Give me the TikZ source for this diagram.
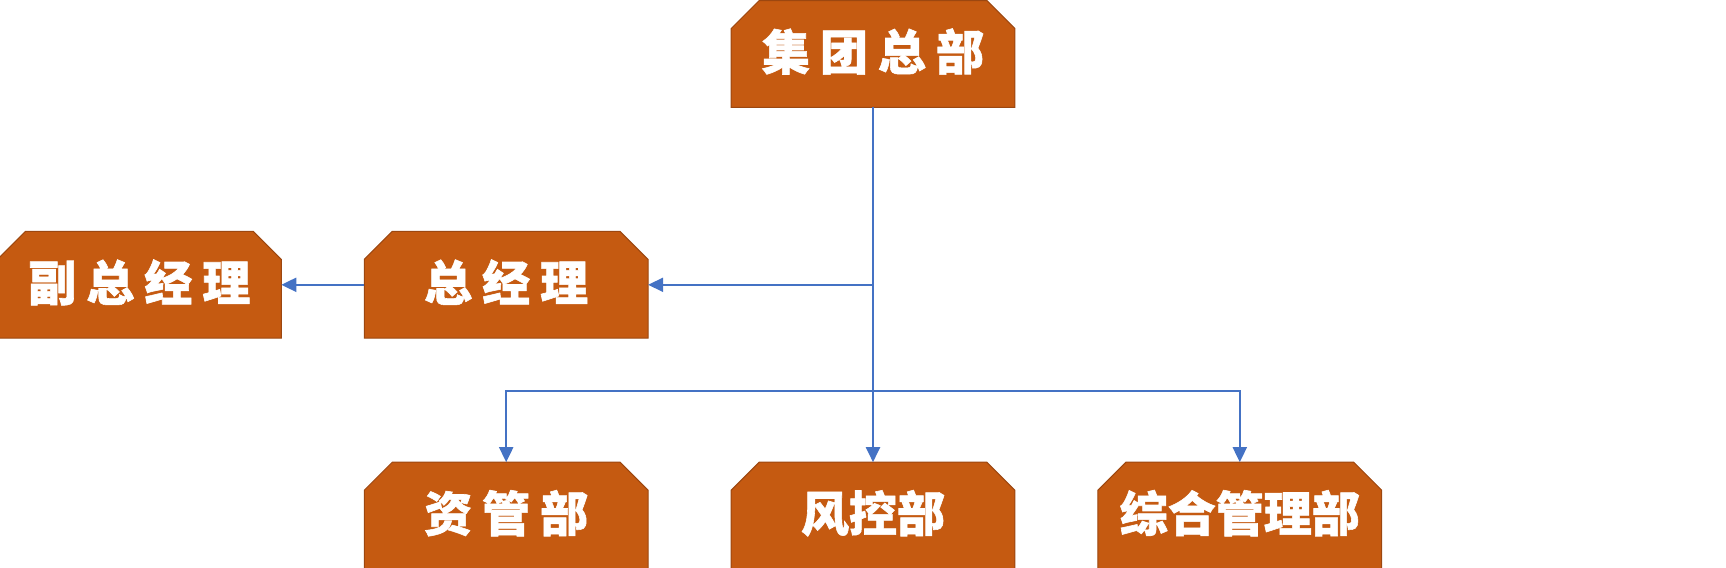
\documentclass[tikz,border=0pt]{standalone}
\usepackage{fontspec}
\newfontfamily\cjk{Noto Sans CJK SC}[BoldFeatures={FakeBold=1.2}]
\usetikzlibrary{arrows.meta,positioning,backgrounds}
\definecolor{boxfill}{HTML}{C55A11}
\definecolor{boxline}{HTML}{9C4710}
\definecolor{linkblue}{HTML}{4472C4}
\newcommand{\gp}{\hspace{5pt}}

\begin{document}
\begin{tikzpicture}[node distance=62pt and 41.5pt,>={Triangle[length=7.5pt,width=7pt]}, every node/.style={font=\cjk\bfseries\fontsize{24pt}{24pt}\selectfont}]
\tikzstyle{box}=[rectangle,text=white,inner sep=0pt,text height=20pt,text depth=4pt,minimum width=141.5pt,minimum height=53pt]
\tikzstyle{tab}=[draw=boxline,line width=0.5pt,fill=boxfill]
\tikzstyle{link}=[draw=linkblue,line width=1pt]
\useasboundingbox (0,0) rectangle (863pt,-284pt);
\node[box] (hq) at (436.5pt,-27pt) {集\gp 团\gp 总\gp 部};
\node[box,below left=of hq] (gm) {总\gp 经\gp 理};
\node[box,left=of gm] (vgm) {副\gp 总\gp 经\gp 理};
\node[box,below=of gm] (am) {资\gp 管\gp 部};
\node[box,right=of am] (rc) {风控部};
\node[box,right=of rc] (adm) {综合管理部};
\begin{scope}[on background layer]
\foreach \n in {hq,gm,vgm,am,rc,adm}
  \draw[tab] (\n.south west) -- ([yshift=-14pt]\n.north west) -- ([xshift=14pt]\n.north west)
    -- ([xshift=-14pt]\n.north east) -- ([yshift=-14pt]\n.north east) -- (\n.south east) -- cycle;
\end{scope}
\coordinate[above=35.5pt of rc.north] (bus);
\draw[link,->] (hq) -- (rc);
\draw[link,->] (hq.south |- gm.east) -- (gm.east);
\draw[link,->] (gm) -- (vgm);
\draw[link,->] (bus) -| (am);
\draw[link,->] (bus) -| (adm);
\end{tikzpicture}
\end{document}
